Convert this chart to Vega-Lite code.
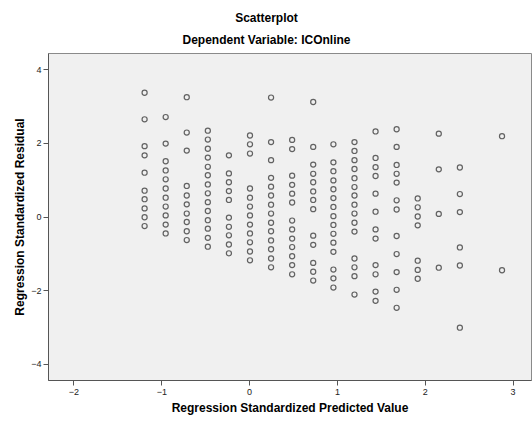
{
  "$schema": "https://vega.github.io/schema/vega-lite/v6.json",
  "width": 483,
  "height": 327,
  "autosize": {"type": "none"},
  "padding": {"left": 48, "top": 53, "right": 1, "bottom": 41},
  "background": "white",
  "config": {
    "font": "Liberation Sans",
    "view": {"fill": "#f0f0f0", "stroke": "#8a8a8a", "strokeWidth": 1}
  },
  "title": {
    "text": "Scatterplot",
    "subtitle": "Dependent Variable: ICOnline",
    "fontSize": 12,
    "fontWeight": "bold",
    "subtitleFontSize": 12,
    "subtitleFontWeight": "bold",
    "color": "#000",
    "subtitleColor": "#000",
    "subtitlePadding": 10,
    "offset": 6,
    "anchor": "middle",
    "dx": -23
  },
  "data": {
    "values": [
      {"x": -1.19, "y": 3.36}, {"x": -1.19, "y": 2.64}, {"x": -1.19, "y": 1.91}, {"x": -1.19, "y": 1.66}, {"x": -1.19, "y": 1.19}, {"x": -1.19, "y": 0.70}, {"x": -1.19, "y": 0.47}, {"x": -1.19, "y": 0.22}, {"x": -1.19, "y": -0.02}, {"x": -1.19, "y": -0.26},
      {"x": -0.95, "y": 2.70}, {"x": -0.95, "y": 1.98}, {"x": -0.95, "y": 1.50}, {"x": -0.95, "y": 1.25}, {"x": -0.95, "y": 1.01}, {"x": -0.95, "y": 0.76}, {"x": -0.95, "y": 0.51}, {"x": -0.95, "y": 0.27}, {"x": -0.95, "y": 0.03}, {"x": -0.95, "y": -0.22}, {"x": -0.95, "y": -0.46},
      {"x": -0.71, "y": 3.24}, {"x": -0.71, "y": 2.28}, {"x": -0.71, "y": 1.79}, {"x": -0.71, "y": 0.83}, {"x": -0.71, "y": 0.57}, {"x": -0.71, "y": 0.33}, {"x": -0.71, "y": 0.08}, {"x": -0.71, "y": -0.15}, {"x": -0.71, "y": -0.40}, {"x": -0.71, "y": -0.64},
      {"x": -0.47, "y": 2.33}, {"x": -0.47, "y": 2.09}, {"x": -0.47, "y": 1.84}, {"x": -0.47, "y": 1.60}, {"x": -0.47, "y": 1.35}, {"x": -0.47, "y": 1.12}, {"x": -0.47, "y": 0.87}, {"x": -0.47, "y": 0.63}, {"x": -0.47, "y": 0.39}, {"x": -0.47, "y": 0.15}, {"x": -0.47, "y": -0.10}, {"x": -0.47, "y": -0.33}, {"x": -0.47, "y": -0.58}, {"x": -0.47, "y": -0.82},
      {"x": -0.23, "y": 1.66}, {"x": -0.23, "y": 1.17}, {"x": -0.23, "y": 0.93}, {"x": -0.23, "y": 0.69}, {"x": -0.23, "y": 0.45}, {"x": -0.23, "y": -0.03}, {"x": -0.23, "y": -0.28}, {"x": -0.23, "y": -0.51}, {"x": -0.23, "y": -0.76}, {"x": -0.23, "y": -1.00},
      {"x": 0.01, "y": 2.20}, {"x": 0.01, "y": 1.96}, {"x": 0.01, "y": 1.71}, {"x": 0.01, "y": 0.76}, {"x": 0.01, "y": 0.51}, {"x": 0.01, "y": 0.27}, {"x": 0.01, "y": 0.03}, {"x": 0.01, "y": -0.22}, {"x": 0.01, "y": -0.46}, {"x": 0.01, "y": -0.70}, {"x": 0.01, "y": -0.95}, {"x": 0.01, "y": -1.19},
      {"x": 0.25, "y": 3.23}, {"x": 0.25, "y": 2.02}, {"x": 0.25, "y": 1.53}, {"x": 0.25, "y": 1.05}, {"x": 0.25, "y": 0.81}, {"x": 0.25, "y": 0.57}, {"x": 0.25, "y": 0.32}, {"x": 0.25, "y": 0.08}, {"x": 0.25, "y": -0.17}, {"x": 0.25, "y": -0.40}, {"x": 0.25, "y": -0.65}, {"x": 0.25, "y": -0.89}, {"x": 0.25, "y": -1.14}, {"x": 0.25, "y": -1.38},
      {"x": 0.49, "y": 2.08}, {"x": 0.49, "y": 1.83}, {"x": 0.49, "y": 1.11}, {"x": 0.49, "y": 0.86}, {"x": 0.49, "y": 0.62}, {"x": 0.49, "y": 0.38}, {"x": 0.49, "y": -0.11}, {"x": 0.49, "y": -0.35}, {"x": 0.49, "y": -0.60}, {"x": 0.49, "y": -0.83}, {"x": 0.49, "y": -1.08}, {"x": 0.49, "y": -1.32}, {"x": 0.49, "y": -1.57},
      {"x": 0.73, "y": 3.11}, {"x": 0.73, "y": 1.89}, {"x": 0.73, "y": 1.41}, {"x": 0.73, "y": 1.16}, {"x": 0.73, "y": 0.93}, {"x": 0.73, "y": 0.68}, {"x": 0.73, "y": 0.45}, {"x": 0.73, "y": 0.20}, {"x": 0.73, "y": -0.52}, {"x": 0.73, "y": -0.77}, {"x": 0.73, "y": -1.26}, {"x": 0.73, "y": -1.50}, {"x": 0.73, "y": -1.74},
      {"x": 0.96, "y": 1.96}, {"x": 0.96, "y": 1.47}, {"x": 0.96, "y": 1.23}, {"x": 0.96, "y": 0.98}, {"x": 0.96, "y": 0.74}, {"x": 0.96, "y": 0.50}, {"x": 0.96, "y": 0.26}, {"x": 0.96, "y": 0.01}, {"x": 0.96, "y": -0.23}, {"x": 0.96, "y": -0.47}, {"x": 0.96, "y": -0.71}, {"x": 0.96, "y": -0.96}, {"x": 0.96, "y": -1.44}, {"x": 0.96, "y": -1.68}, {"x": 0.96, "y": -1.93},
      {"x": 1.20, "y": 2.02}, {"x": 1.20, "y": 1.78}, {"x": 1.20, "y": 1.53}, {"x": 1.20, "y": 1.29}, {"x": 1.20, "y": 1.04}, {"x": 1.20, "y": 0.80}, {"x": 1.20, "y": 0.57}, {"x": 1.20, "y": 0.32}, {"x": 1.20, "y": 0.08}, {"x": 1.20, "y": -0.17}, {"x": 1.20, "y": -0.41}, {"x": 1.20, "y": -1.14}, {"x": 1.20, "y": -1.38}, {"x": 1.20, "y": -1.62}, {"x": 1.20, "y": -2.12},
      {"x": 1.44, "y": 2.31}, {"x": 1.44, "y": 1.59}, {"x": 1.44, "y": 1.34}, {"x": 1.44, "y": 1.10}, {"x": 1.44, "y": 0.62}, {"x": 1.44, "y": 0.13}, {"x": 1.44, "y": -0.35}, {"x": 1.44, "y": -0.60}, {"x": 1.44, "y": -1.32}, {"x": 1.44, "y": -1.57}, {"x": 1.44, "y": -2.04}, {"x": 1.44, "y": -2.29},
      {"x": 1.68, "y": 2.37}, {"x": 1.68, "y": 1.89}, {"x": 1.68, "y": 1.40}, {"x": 1.68, "y": 1.16}, {"x": 1.68, "y": 0.92}, {"x": 1.68, "y": 0.44}, {"x": 1.68, "y": 0.19}, {"x": 1.68, "y": -0.53}, {"x": 1.68, "y": -1.02}, {"x": 1.68, "y": -1.51}, {"x": 1.68, "y": -1.99}, {"x": 1.68, "y": -2.48},
      {"x": 1.92, "y": 0.49}, {"x": 1.92, "y": 0.25}, {"x": 1.92, "y": 0.00}, {"x": 1.92, "y": -0.24}, {"x": 1.92, "y": -1.20}, {"x": 1.92, "y": -1.45}, {"x": 1.92, "y": -1.69},
      {"x": 2.16, "y": 2.25}, {"x": 2.16, "y": 1.28}, {"x": 2.16, "y": 0.07}, {"x": 2.16, "y": -1.39},
      {"x": 2.40, "y": 1.33}, {"x": 2.40, "y": 0.61}, {"x": 2.40, "y": 0.12}, {"x": 2.40, "y": -0.84}, {"x": 2.40, "y": -1.33}, {"x": 2.40, "y": -3.02},
      {"x": 2.88, "y": 2.18}, {"x": 2.88, "y": -1.46}
    ]
  },
  "mark": {"type": "point", "shape": "circle", "filled": false, "stroke": "#333333", "strokeWidth": 1.2, "opacity": 0.75, "size": 26},
  "encoding": {
    "x": {
      "field": "x", "type": "quantitative",
      "scale": {"domain": [-2.29, 3.21], "nice": false, "zero": false},
      "axis": {
        "title": "Regression Standardized Predicted Value",
        "values": [-2, -1, 0, 1, 2, 3],
        "grid": false,
        "domainColor": "#555555",
        "tickColor": "#555555",
        "tickSize": 5,
        "labelFontSize": 9,
        "labelColor": "#222222",
        "labelPadding": 2,
        "titleFontSize": 12,
        "titleFontWeight": "bold",
        "titleColor": "#000000",
        "titlePadding": 6
      }
    },
    "y": {
      "field": "y", "type": "quantitative",
      "scale": {"domain": [-4.44, 4.44], "nice": false, "zero": false},
      "axis": {
        "title": "Regression Standardized Residual",
        "values": [-4, -2, 0, 2, 4],
        "grid": false,
        "domainColor": "#555555",
        "tickColor": "#555555",
        "tickSize": 5,
        "labelFontSize": 9,
        "labelColor": "#222222",
        "labelPadding": 2,
        "titleFontSize": 12,
        "titleFontWeight": "bold",
        "titleColor": "#000000",
        "titlePadding": 4
      }
    }
  }
}
